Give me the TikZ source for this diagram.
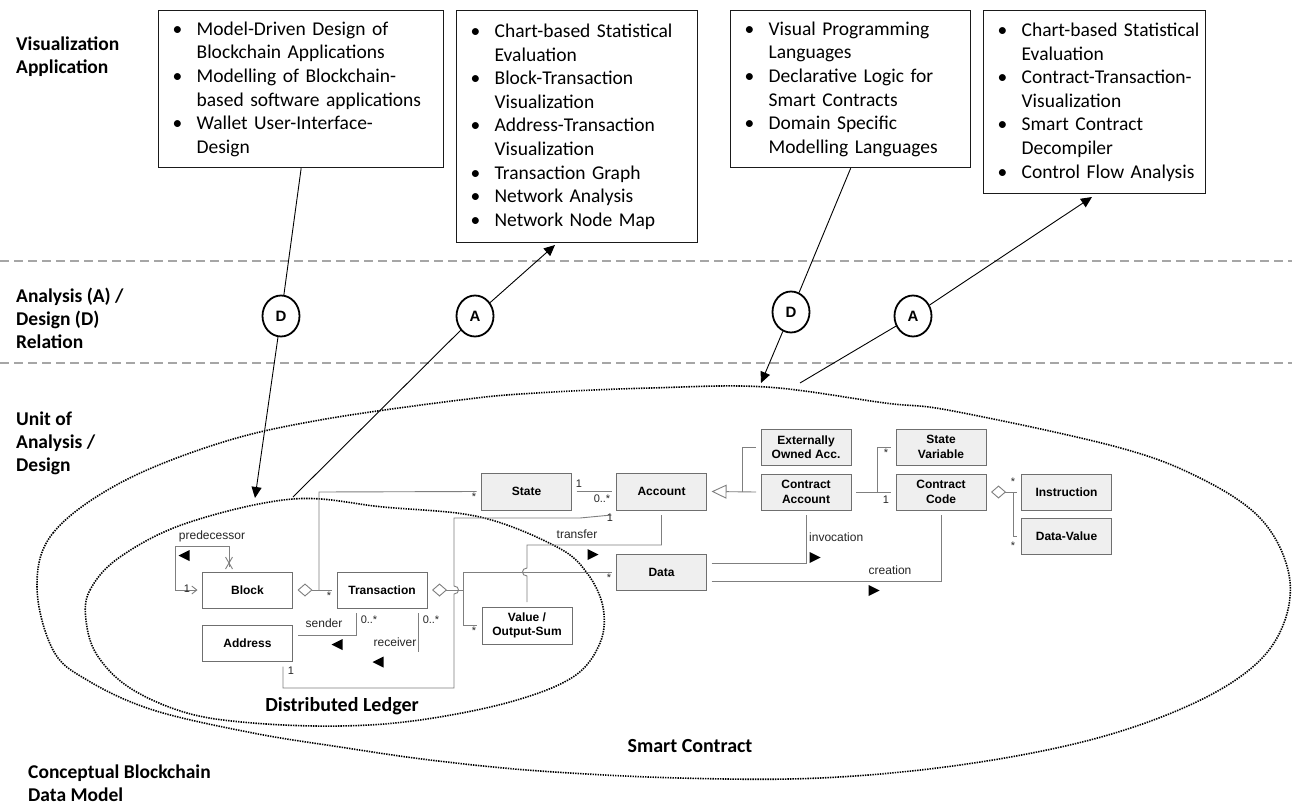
\documentclass[tikz,border=0pt]{standalone}
\usepackage{fontspec}
\setmainfont{Carlito}
\newfontfamily\umlfont{Liberation Sans}
\usetikzlibrary{arrows.meta,shapes.geometric}

\definecolor{umlline}{HTML}{7F7F7F}
\definecolor{umlborder}{HTML}{6F6F6F}
\definecolor{umlshade}{HTML}{EFEFEF}
\definecolor{sepgray}{HTML}{A6A6A6}
\definecolor{labeltext}{HTML}{262626}
\definecolor{boxline}{HTML}{1A1A1A}

% bullet list lines inside the application boxes
\newcommand\bitem[1]{\mbox{\makebox[24pt][l]{\textbullet}#1}}
\newcommand\bcont[1]{\mbox{\hspace*{24pt}#1}}

\begin{document}
\begin{tikzpicture}[x=1pt,y=-1pt,
  vizbox/.style={draw=boxline, line width=1.3pt, fill=white, anchor=north west, align=left,
    inner xsep=14pt, inner ysep=0pt, font=\fontsize{19.5}{23.6}\selectfont},
  tier/.style={anchor=west, align=left, inner sep=0pt, font=\bfseries\fontsize{19.5}{23}\selectfont},
  tierline/.style={draw=sepgray, line width=1.1pt, dash pattern=on 9pt off 5pt},
  rel/.style={ellipse, draw=black, line width=1.8pt, fill=white, minimum width=37pt,
    minimum height=41pt, inner sep=0pt, font=\umlfont\bfseries\fontsize{15}{15}\selectfont},
  relline/.style={draw=black, line width=0.9pt},
  relarrow/.style={relline, -{Triangle[length=11pt,width=10pt]}},
  region/.style={draw=black, line width=1.6pt, dash pattern=on 1.4pt off 1.1pt},
  umlbox/.style={draw=umlborder, line width=0.9pt, fill=white, minimum width=90pt,
    minimum height=36pt, inner sep=0pt, outer sep=5pt, align=center,
    font=\umlfont\bfseries\fontsize{12}{14.5}\selectfont},
  umlshaded/.style={umlbox, fill=umlshade},
  assoc/.style={draw=umlline, line width=0.9pt},
  agg/.style={assoc, {Diamond[open,length=15pt,width=13pt]}-},
  lbl/.style={inner sep=0pt, text=labeltext, font=\umlfont\fontsize{12}{14}\selectfont},
  mult/.style={inner sep=0pt, text=labeltext, font=\umlfont\fontsize{11}{12}\selectfont},
  regionlabel/.style={inner sep=0pt, font=\bfseries\fontsize{20}{24}\selectfont},
  dirR/.pic={\fill[black] (-5,-5.5) -- (6,0) -- (-5,5.5) -- cycle;},
  dirL/.pic={\fill[black] (5,-5.5) -- (-6,0) -- (5,5.5) -- cycle;},
]
\useasboundingbox (0,0) rectangle (1292,805);
\fill[white] (0,0) rectangle (1292,805);

% tier separators
\draw[tierline] (0,261) -- (1292,261);
\draw[tierline] (0,363) -- (1292,363);

% tier captions
\node[tier] (tviz) at (16,57) {Visualization\\Application};
\node[tier] (trel) at (16,318) {Analysis (A) /\\Design (D)\\Relation};
\node[tier] (tunit) at (16,443) {Unit of\\Analysis /\\Design};
\node[tier] (tmodel) at (28,783) {Conceptual Blockchain\\Data Model};

% smart contract region
\draw[region] plot[smooth cycle, tension=0.6] coordinates {
  (37,587) (53,533) (120,483) (220,443) (320,420) (460,400) (536,393) (651,388)
  (766,387) (885,403) (953,411) (1117,447) (1200,478) (1260,518) (1288,570)
  (1285,620) (1255,665) (1190,705) (1090,740) (960,765) (820,778) (680,778)
  (540,771) (430,760) (340,747) (253,733) (153,710) (87,680) (53,650)};
% distributed ledger region
\draw[region] plot[smooth cycle, tension=0.6] coordinates {
  (86,620) (90,590) (120,557) (187,523) (293,499) (383,507) (480,517) (557,547)
  (587,573) (603,607) (600,643) (573,677) (510,702) (420,720) (340,726)
  (253,723) (187,713) (130,688) (97,655)};
\node[regionlabel] (ldl) at (342,706) {Distributed Ledger};
\node[regionlabel] (lsc) at (690,746) {Smart Contract};

% visualization applications
\node[vizbox, text width=257pt, minimum height=157pt] (vd1) at (158,10) {%
  \bitem{Model-Driven Design of}\\ \bcont{Blockchain Applications}\\
  \bitem{Modelling of Blockchain-}\\ \bcont{based software applications}\\
  \bitem{Wallet User-Interface-}\\ \bcont{Design}};
\node[vizbox, text width=213pt, minimum height=232pt] (va1) at (456,10) {%
  \bitem{Chart-based Statistical}\\ \bcont{Evaluation}\\
  \bitem{Block-Transaction}\\ \bcont{Visualization}\\
  \bitem{Address-Transaction}\\ \bcont{Visualization}\\
  \bitem{Transaction Graph}\\ \bitem{Network Analysis}\\ \bitem{Network Node Map}};
\node[vizbox, text width=212pt, minimum height=157pt] (vd2) at (730,10) {%
  \bitem{Visual Programming}\\ \bcont{Languages}\\
  \bitem{Declarative Logic for}\\ \bcont{Smart Contracts}\\
  \bitem{Domain Specific}\\ \bcont{Modelling Languages}};
\node[vizbox, text width=194pt, minimum height=183pt] (va2) at (983,10) {%
  \bitem{Chart-based Statistical}\\ \bcont{Evaluation}\\
  \bitem{Contract-Transaction-}\\ \bcont{Visualization}\\
  \bitem{Smart Contract}\\ \bcont{Decompiler}\\
  \bitem{Control Flow Analysis}};

% analysis / design relations
\node[rel] (d1) at (281,316) {D};
\node[rel] (a1) at (475,316) {A};
\node[rel] (d2) at (791,312) {D};
\node[rel] (a2) at (913,316) {A};
\coordinate (d1tip) at (255,498);
\coordinate (a1foot) at (293,497);
\coordinate (a1tip) at (555,245);
\coordinate (d2tip) at (761,383);
\coordinate (a2foot) at (800,383);
\coordinate (a2tip) at (1092,197);
\draw[relline] (vd1.south) -- (d1);
\draw[relarrow] (d1) -- (d1tip);
\draw[relline] (a1foot) -- (a1);
\draw[relarrow] (a1) -- (a1tip);
\draw[relline] (vd2.south) -- (d2);
\draw[relarrow] (d2) -- (d2tip);
\draw[relline] (a2foot) -- (a2);
\draw[relarrow] (a2) -- (a2tip);

% data model classes
\node[umlbox] (block) at (247.5,590) {Block};
\node[umlbox] (tx) at (382,590) {Transaction};
\node[umlbox] (addr) at (247.5,643.5) {Address};
\node[umlbox, minimum height=37pt] (value) at (527,625.5) {Value /\\Output-Sum};
\node[umlshaded, minimum height=37pt] (state) at (526.5,491.5) {State};
\node[umlshaded, minimum height=37pt] (account) at (661.5,491.5) {Account};
\node[umlshaded] (data) at (661.5,572) {Data};
\node[umlshaded] (eoa) at (806,447) {Externally\\Owned Acc.};
\node[umlshaded] (cacc) at (806,492) {Contract\\Account};
\node[umlshaded] (svar) at (941,447) {State\\Variable};
\node[umlshaded] (ccode) at (941,492) {Contract\\Code};
\node[umlshaded] (instr) at (1066.5,492) {Instruction};
\node[umlshaded] (dval) at (1066.5,536.5) {Data-Value};

% predecessor self association
\draw[assoc, -{Straight Barb[length=5pt,width=8pt]}] (block.north -| 229,0) -- (229,546)
  -- (175,546) -- (175,590) -- (block.west);
\draw[assoc] (225.5,557) -- (232.5,569) (232.5,557) -- (225.5,569);
\node[lbl] (lpred) at (212,536) {predecessor};
\pic at (184.5,555.5) {dirL};
\node[mult] (mpred) at (187,589) {1};

% block aggregates transactions
\draw[agg] (block.east) -- (tx.west);
\node[mult] (mbt) at (329,596) {*};
\draw[assoc] (319,590) -- (319,492) -- (state.west);
\node[mult] (mts) at (474,497) {*};

% state - account
\draw[assoc] (state.east) -- (account.west);
\node[mult] (msa1) at (579,484) {1};
\node[mult] (msa2) at (602,499) {0..*};

% transaction aggregates data and value
\draw[agg] (tx.east) -- (463,590);
\draw[assoc] (data.west) -- (463,572) -- (463,625.5) -- (value.west);
\node[mult] (mtd) at (609,578) {*};
\node[mult] (mtv) at (474,631) {*};

% address - account
\draw[assoc] (addr.south -| 283,0) -- (283,688) -- (454,688) -- (454,594)
  .. controls (460,594) and (460,586) .. (454,586) -- (454,518) -- (580,518)
  -- (account.south west);
\node[mult] (maa1) at (291,671) {1};
\node[mult] (maa2) at (610,518) {1};

% transfer
\draw[assoc] (account.south) -- (661.5,545) -- (527,545) -- (527,568)
  .. controls (521,568) and (521,576) .. (527,576) -- (value.north);
\node[lbl] (ltransfer) at (577,534) {transfer};
\pic at (592.5,554.5) {dirR};

% sender / receiver
\draw[assoc] (tx.south -| 356,0) -- (356,635) -- (addr.east |- 0,635);
\node[lbl] (lsender) at (324,623) {sender};
\node[mult] (msender) at (369,620) {0..*};
\pic at (337.5,644.5) {dirL};
\draw[assoc] (tx.south -| 418,0) -- (418,652);
\node[lbl] (lreceiver) at (395,642) {receiver};
\node[mult] (mreceiver) at (431,620) {0..*};
\pic at (378.5,662) {dirL};

% account specialisations
\draw[assoc, -{Triangle[open,length=15pt,width=14pt]}] (cacc.west) -- (account.east);
\draw[assoc] (742,492) -- (742,447) -- (eoa.west);

% contract account - contract code - state variables
\draw[assoc] (cacc.east) -- (ccode.west);
\draw[assoc] (877,492) -- (877,447) -- (svar.west);
\node[mult] (mcc) at (886,500) {1};
\node[mult] (msv) at (886,453) {*};

% contract code aggregates instructions and values
\draw[agg] (ccode.east) -- (instr.west);
\draw[assoc] (1013,492) -- (1013,536.5) -- (dval.west);
\node[mult] (mins) at (1013,482) {*};
\node[mult] (mdv) at (1013,546) {*};

% invocation / creation
\draw[assoc] (data.east |- 0,563) -- (806,563) -- (cacc.south);
\node[lbl, anchor=west] (linv) at (809,537) {invocation};
\pic at (814.5,557.5) {dirR};
\draw[assoc] (data.east |- 0,581) -- (941,581) -- (ccode.south);
\node[lbl] (lcre) at (890,570) {creation};
\pic at (873.5,590.5) {dirR};
\end{tikzpicture}
\end{document}
